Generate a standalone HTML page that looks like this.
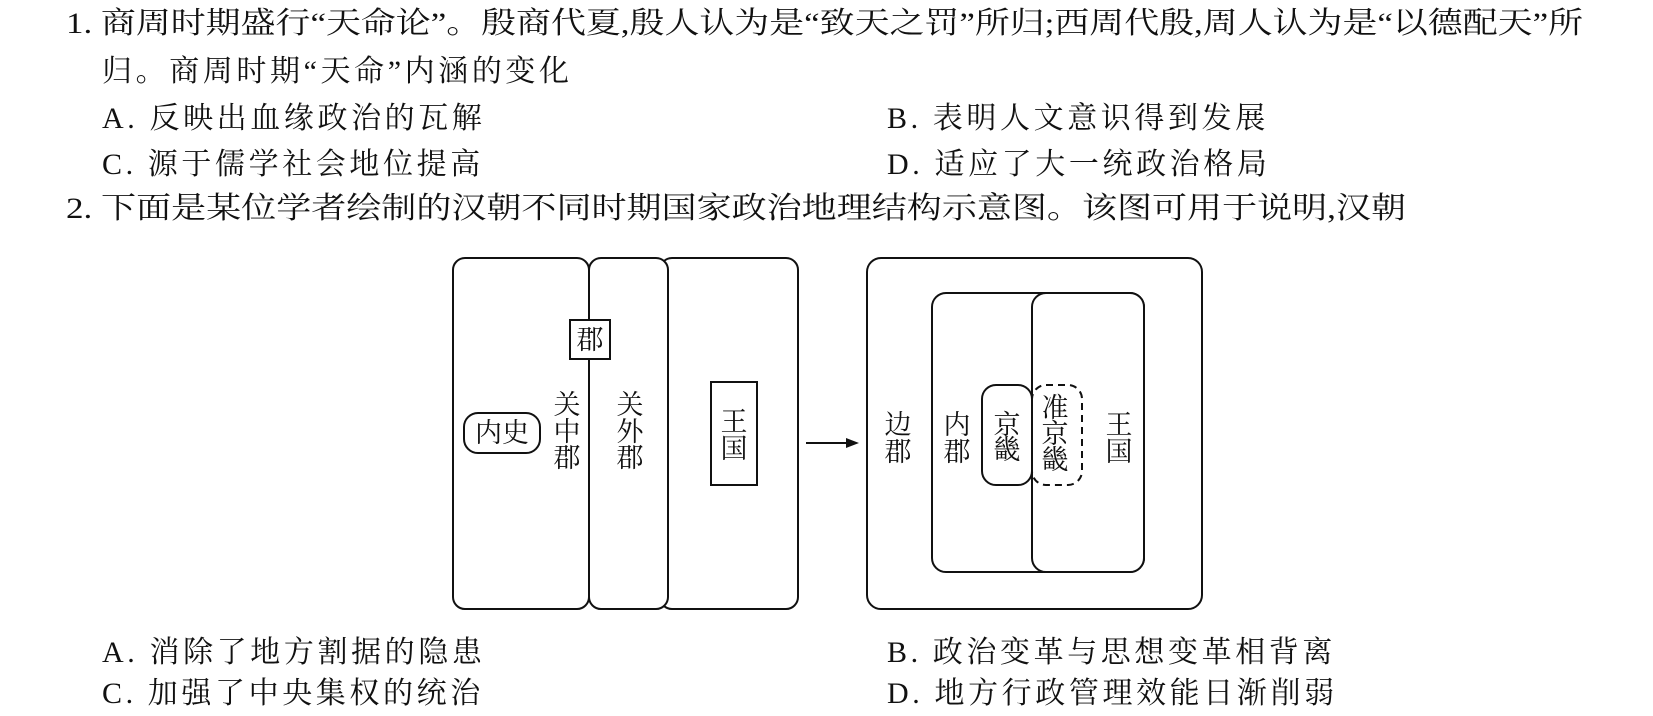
<!DOCTYPE html>
<html><head><meta charset="utf-8">
<style>
html,body{margin:0;padding:0;background:#fff;}
body{width:1653px;height:716px;position:relative;overflow:hidden;font-family:"Liberation Serif","Noto Serif CJK SC",serif;color:#111;}
svg{position:absolute;left:0;top:0;}
svg text{font-family:"Liberation Serif","Noto Serif CJK SC",serif;fill:#111;}
</style></head><body>
<svg width="1653" height="716" viewBox="0 0 1653 716">
  <g font-size="30">
    <text x="66" y="33" textLength="1517" lengthAdjust="spacingAndGlyphs">1. 商周时期盛行“天命论”。殷商代夏,殷人认为是“致天之罚”所归;西周代殷,周人认为是“以德配天”所</text>
    <text x="102" y="81" letter-spacing="3.6">归。商周时期“天命”内涵的变化</text>
    <text x="102" y="128" letter-spacing="3.6">A. 反映出血缘政治的瓦解</text>
    <text x="887" y="128" letter-spacing="3.6">B. 表明人文意识得到发展</text>
    <text x="102" y="174" letter-spacing="3.6">C. 源于儒学社会地位提高</text>
    <text x="887" y="174" letter-spacing="3.6">D. 适应了大一统政治格局</text>
    <text x="66" y="218" textLength="1340" lengthAdjust="spacingAndGlyphs">2. 下面是某位学者绘制的汉朝不同时期国家政治地理结构示意图。该图可用于说明,汉朝</text>
    <text x="102" y="662" letter-spacing="3.6">A. 消除了地方割据的隐患</text>
    <text x="887" y="662" letter-spacing="3.6">B. 政治变革与思想变革相背离</text>
    <text x="102" y="703" letter-spacing="3.6">C. 加强了中央集权的统治</text>
    <text x="887" y="703" letter-spacing="3.6">D. 地方行政管理效能日渐削弱</text>
  </g>
  <g fill="none" stroke="#111" stroke-width="2">
    <rect x="660" y="258" width="138" height="351" rx="12"/>
    <rect x="589" y="258" width="79" height="351" rx="12" fill="#fff"/>
    <rect x="453" y="258" width="136" height="351" rx="12" fill="#fff"/>
    <rect x="570" y="320" width="40" height="39" fill="#fff"/>
    <rect x="464" y="413" width="76" height="40" rx="14"/>
    <rect x="711" y="382" width="46" height="103"/>
    <line x1="806" y1="443" x2="850" y2="443"/>
    <rect x="867" y="258" width="335" height="351" rx="14"/>
    <rect x="932" y="293" width="212" height="279" rx="14"/>
    <rect x="1032" y="293" width="112" height="279" rx="14" fill="#fff"/>
    <rect x="982" y="385" width="50" height="100" rx="14"/>
    <rect x="1032" y="385" width="50" height="100" rx="14" stroke-dasharray="7,5"/>
  </g>
  <polygon points="859,443 846,438 846,448" fill="#111"/>
  <g font-size="27" text-anchor="middle">
    <text x="590" y="349">郡</text>
    <text x="502" y="442">内史</text>
    <text x="567" y="414">关</text><text x="567" y="441">中</text><text x="567" y="467">郡</text>
    <text x="630" y="414">关</text><text x="630" y="441">外</text><text x="630" y="467">郡</text>
    <text x="734" y="431">王</text><text x="734" y="458">国</text>
    <text x="898" y="434">边</text><text x="898" y="461">郡</text>
    <text x="957" y="434">内</text><text x="957" y="461">郡</text>
    <text x="1007" y="434">京</text><text x="1007" y="459">畿</text>
    <text x="1055" y="417">准</text><text x="1055" y="443">京</text><text x="1055" y="469">畿</text>
    <text x="1119" y="434">王</text><text x="1119" y="461">国</text>
  </g>
</svg>
</body></html>
